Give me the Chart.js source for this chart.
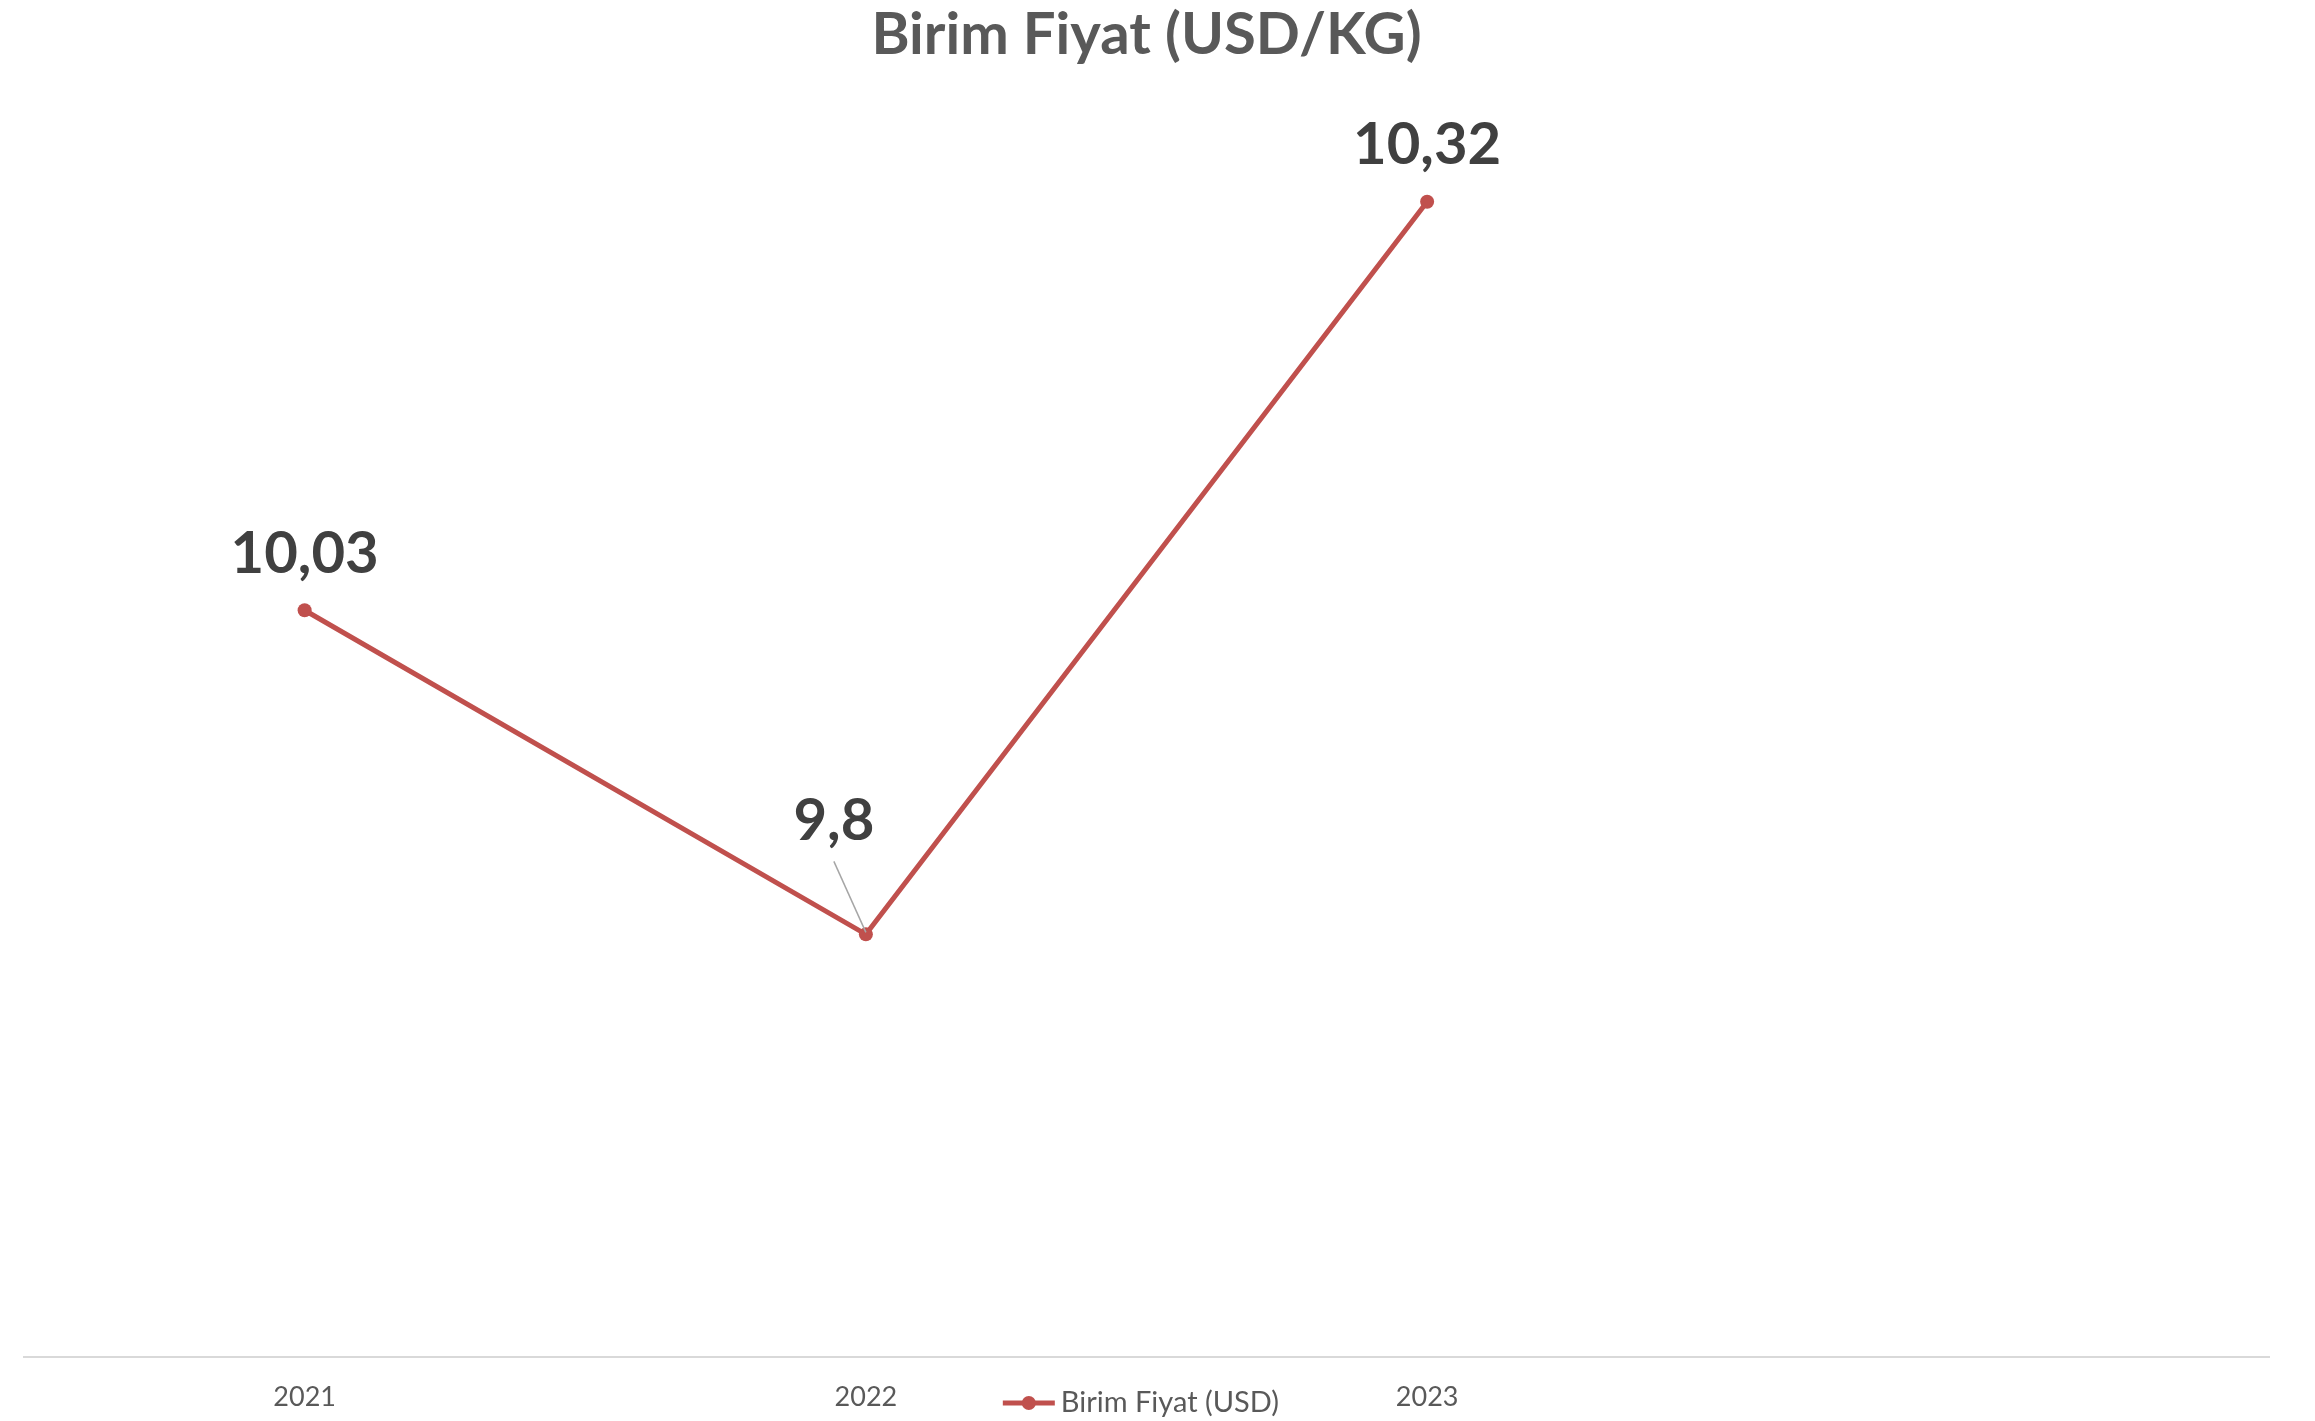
<!DOCTYPE html>
<html>
<head>
<meta charset="utf-8">
<title>Birim Fiyat (USD/KG)</title>
<script src="https://cdn.jsdelivr.net/npm/chart.js@4.4.1/dist/chart.umd.min.js"></script>
<style>
    html, body { margin: 0; padding: 0; background: #ffffff; }
    #wrap { width: 2315px; height: 1421px; }
</style>
</head>
<body>
<div id="wrap"><canvas id="fiyatChart"></canvas></div>
<script>
// 데이터
var years = ['2021', '2022', '2023', ''];
var fiyat = [10.03, 9.8, 10.32, null];
var fiyatText = ['10,03', '9,8', '10,32'];
var seriesName = 'Birim Fiyat (USD)';
var yMin = 9.5;
var yMax = 10.4;

var lineColor = '#C0504D';
var fontName = 'Lato, "Open Sans", sans-serif';

// 값 라벨 그리기 (9,8 은 leader line 포함)
var valueLabels = {
    id : 'valueLabels',
    afterDatasetsDraw : function(chart) {
        var ctx = chart.ctx;
        var meta = chart.getDatasetMeta(0);
        ctx.save();
        ctx.font = 'bold 58px ' + fontName;
        ctx.fillStyle = '#404040';
        ctx.textAlign = 'center';
        ctx.textBaseline = 'middle';
        for (var i = 0; i < fiyatText.length; i++) {
            var p = meta.data[i];
            if (i == 1) {
                ctx.strokeStyle = '#a6a6a6';
                ctx.lineWidth = 1.5;
                ctx.beginPath();
                ctx.moveTo(p.x - 32, p.y - 73);
                ctx.lineTo(p.x, p.y - 2);
                ctx.stroke();
                ctx.fillText(fiyatText[i], p.x - 32, p.y - 113);
            } else {
                ctx.fillText(fiyatText[i], p.x, p.y - 56);
            }
        }
        ctx.restore();
    }
};

// 범례 (x축 라벨과 같은 줄)
var rowLegend = {
    id : 'rowLegend',
    afterDraw : function(chart) {
        var ctx = chart.ctx;
        var area = chart.chartArea;
        var x = area.left + (area.right - area.left) * 0.436;
        var y = area.bottom + 46;
        ctx.save();
        ctx.strokeStyle = lineColor;
        ctx.lineWidth = 5;
        ctx.beginPath();
        ctx.moveTo(x, y);
        ctx.lineTo(x + 52, y);
        ctx.stroke();
        ctx.fillStyle = lineColor;
        ctx.beginPath();
        ctx.arc(x + 26, y, 7, 0, Math.PI * 2);
        ctx.fill();
        ctx.font = '29px ' + fontName;
        ctx.fillStyle = '#595959';
        ctx.textAlign = 'left';
        ctx.textBaseline = 'middle';
        ctx.fillText(seriesName, x + 58, y);
        ctx.restore();
    }
};

const ctx = document.getElementById('fiyatChart').getContext('2d');
const fiyatChart = new Chart(ctx, {
    type : 'line',
    data : {
        labels : years,
        datasets : [ {
            label : seriesName,
            data : fiyat,
            borderColor : lineColor,
            backgroundColor : lineColor,
            borderWidth : 5,
            pointRadius : 7,
            pointBackgroundColor : lineColor,
            pointBorderWidth : 0,
            tension : 0
        } ]
    },
    options : {
        responsive : true,
        maintainAspectRatio : false,
        animation : false,
        layout : {
            padding : { top : 2, left : 24, right : 46, bottom : 6 }
        },
        plugins : {
            legend : { display : false },
            tooltip : { enabled : false },
            title : {
                display : true,
                text : 'Birim Fiyat (USD/KG)',
                color : '#595959',
                font : { family : fontName, size : 58, weight : 'bold', lineHeight : 1 },
                padding : { top : 4, bottom : 25 }
            }
        },
        scales : {
            x : {
                offset : true,
                grid : { display : false, drawTicks : false },
                border : { display : true, color : '#d9d9d9', width : 2 },
                ticks : {
                    color : '#595959',
                    padding : 24,
                    font : { family : fontName, size : 27 }
                },
                afterFit : function(scale) {
                    scale.height = 58; // 축 높이 고정
                }
            },
            y : {
                display : false,
                min : yMin,
                max : yMax
            }
        }
    },
    plugins : [ valueLabels, rowLegend ]
});
</script>
</body>
</html>
